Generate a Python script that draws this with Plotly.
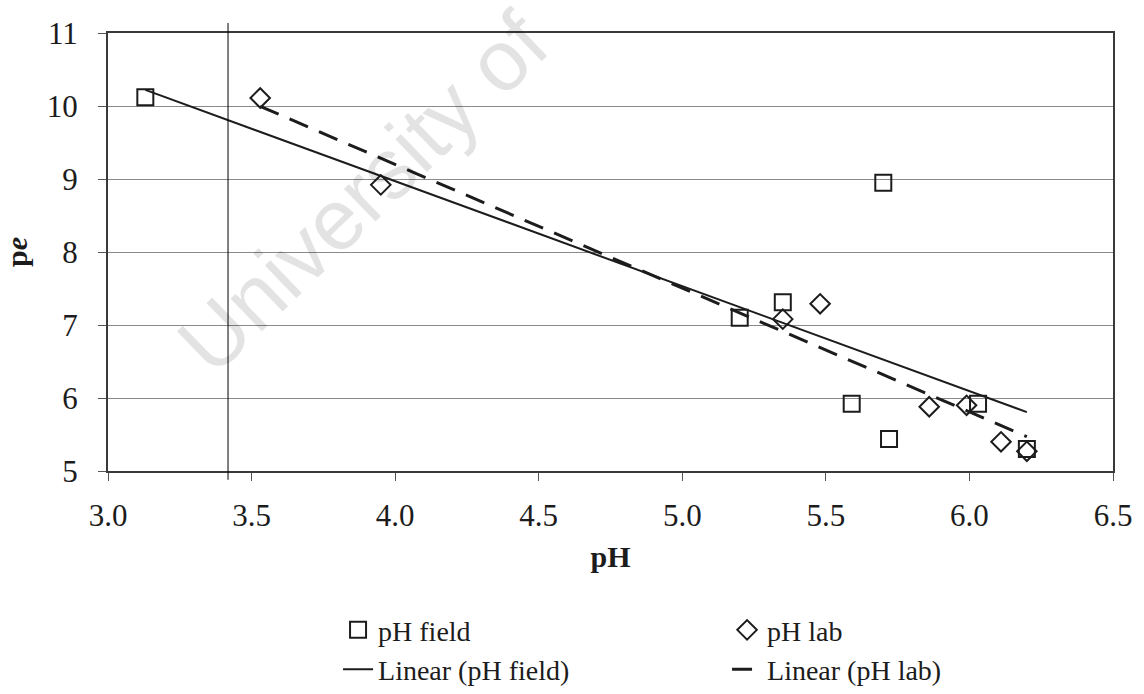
import numpy as np
import plotly.graph_objects as go

# pe versus pH, field and laboratory pH readings
ph_field = [3.13, 5.20, 5.35, 5.59, 5.72, 5.70, 6.03, 6.20]
pe_field = [10.12, 7.10, 7.31, 5.92, 5.44, 8.95, 5.92, 5.30]

ph_lab = [3.53, 3.95, 5.35, 5.48, 5.86, 5.99, 6.11, 6.20]
pe_lab = [10.11, 8.92, 7.08, 7.29, 5.88, 5.90, 5.40, 5.27]

x_tick_vals = [3.0, 3.5, 4.0, 4.5, 5.0, 5.5, 6.0, 6.5]
x_tick_text = ["3.0", "3.5", "4.0", "4.5", "5.0", "5.5", "6.0", "6.5"]
y_tick_vals = [5, 6, 7, 8, 9, 10, 11]

SERIF = "Liberation Serif"
INK = "#1c1c1c"


def linear_trend(x, y):
    """Least-squares straight line over the span of the data."""
    slope, intercept = np.polyfit(x, y, 1)
    xs = np.array([min(x), max(x)])
    return xs, slope * xs + intercept


fx, fy = linear_trend(ph_field, pe_field)
lx, ly = linear_trend(ph_lab, pe_lab)

fig = go.Figure()

fig.add_trace(go.Scatter(
    x=ph_field, y=pe_field, mode="markers", name="pH field",
    marker=dict(symbol="square-open", size=16, color=INK,
                line=dict(width=2, color=INK)),
))
fig.add_trace(go.Scatter(
    x=ph_lab, y=pe_lab, mode="markers", name="pH lab",
    marker=dict(symbol="diamond-open", size=15, color=INK,
                line=dict(width=2, color=INK)),
))
fig.add_trace(go.Scatter(
    x=fx, y=fy, mode="lines", name="Linear (pH field)",
    line=dict(color=INK, width=2),
))
fig.add_trace(go.Scatter(
    x=lx, y=ly, mode="lines", name="Linear (pH lab)",
    line=dict(color=INK, width=3, dash="20px,12px"),
))

# thin vertical rule crossing the chart
fig.add_shape(type="line", xref="x", yref="paper", x0=3.418, x1=3.418,
              y0=-0.02, y1=1.023, line=dict(color="#000000", width=1))

# faint diagonal watermark
fig.add_annotation(
    text="University of", xref="paper", yref="paper",
    x=0.254, y=0.636, xanchor="center", yanchor="middle",
    textangle=-44, showarrow=False,
    font=dict(family="Liberation Sans", size=86, color="rgba(0,0,0,0.11)"),
)

fig.update_layout(
    width=1144, height=694,
    margin=dict(l=108, r=31, t=33, b=223, autoexpand=False),
    paper_bgcolor="white", plot_bgcolor="white",
    font=dict(family=SERIF, color=INK, size=28),
    showlegend=True,
    legend=dict(
        orientation="h", xref="container", yref="container",
        x=0.2955, xanchor="left", y=0.128, yanchor="top",
        entrywidth=344, entrywidthmode="pixels", itemwidth=30,
        font=dict(family=SERIF, size=28, color=INK),
        bgcolor="rgba(0,0,0,0)", traceorder="normal",
    ),
    xaxis=dict(
        range=[3.0, 6.5], tickvals=x_tick_vals, ticktext=x_tick_text,
        ticks="outside", ticklen=8, tickwidth=1, tickcolor="#555555",
        showgrid=False, zeroline=False,
        showline=True, linecolor="#3a3a3a", linewidth=2, mirror=True,
        tickfont=dict(family=SERIF, size=31, color=INK),
        ticklabelstandoff=8,
        title=dict(text="<b>pH</b>", standoff=14,
                   font=dict(family=SERIF, size=30, color=INK)),
    ),
    yaxis=dict(
        range=[5, 11], tickvals=y_tick_vals,
        ticks="outside", ticklen=8, tickwidth=1, tickcolor="#555555",
        showgrid=True, gridcolor="#8a8a8a", gridwidth=1, zeroline=False,
        showline=True, linecolor="#3a3a3a", linewidth=2, mirror=True,
        tickfont=dict(family=SERIF, size=31, color=INK),
        ticklabelstandoff=14,
        title=dict(text="<b>p<i>e</i></b>", standoff=20,
                   font=dict(family=SERIF, size=30, color=INK)),
    ),
)

fig.write_html("out.html")
